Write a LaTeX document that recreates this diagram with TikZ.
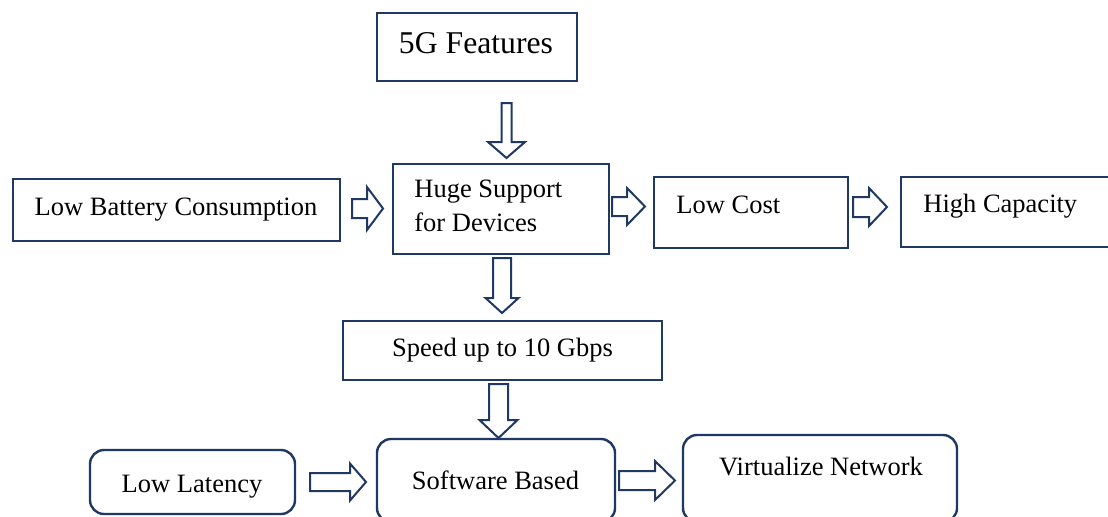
\documentclass[tikz,border=0pt]{standalone}
\usepackage{fontspec}
\setmainfont{Liberation Serif}
\definecolor{navy}{HTML}{1F3864}
\tikzset{
  box/.style={draw=navy, line width=1.2pt, inner sep=0pt, fill=white},
  rbox/.style={box, rounded corners=7pt},
  txt/.style={inner sep=0pt, font=\fontsize{13.25}{17}\selectfont},
  bigtxt/.style={inner sep=0pt, font=\fontsize{15.85}{19}\selectfont},
  barrow/.style={draw=navy, line width=1pt, fill=white, line join=miter}
}
% x0, yc, xhead, xtip, shaft half width, head half width
\newcommand\blockright[6]{%
  \draw[barrow] (#1,{#2-#5}) -- (#3,{#2-#5}) -- (#3,{#2-#6}) -- (#4,#2)
    -- (#3,{#2+#6}) -- (#3,{#2+#5}) -- (#1,{#2+#5}) -- cycle;}
% xc, y0, yhead, ytip, shaft half width, head half width
\newcommand\blockdown[6]{%
  \draw[barrow] ({#1-#5},#2) -- ({#1-#5},#3) -- ({#1-#6},#3) -- (#1,#4)
    -- ({#1+#6},#3) -- ({#1+#5},#3) -- ({#1+#5},#2) -- cycle;}
\begin{document}
\begin{tikzpicture}[x=0.5pt,y=-0.5pt]
\useasboundingbox[fill=white] (0,0) rectangle (1108,516);

% boxes
\node[box, minimum width=100pt, minimum height=34pt] (f5g) at (477,47) {};
\node[box, minimum width=163.5pt, minimum height=31pt] (lbc) at (176.5,210) {};
\node[box, minimum width=108pt, minimum height=45pt] (hsd) at (501,209) {};
\node[box, minimum width=97pt, minimum height=35.5pt] (lc) at (751,212.5) {};
\node[box, minimum width=109.5pt, minimum height=35pt] (hc) at (1010.5,212) {};
\node[box, minimum width=159.5pt, minimum height=29.5pt] (spd) at (502.5,350.5) {};
\node[rbox, minimum width=102.5pt, minimum height=32pt] (ll) at (192.5,482) {};
\node[rbox, minimum width=119pt, minimum height=41.5pt] (sb) at (496,480.5) {};
\node[rbox, minimum width=137pt, minimum height=43.5pt] (vn) at (820,478.5) {};

% texts
\node[bigtxt, anchor=base] (f5gt) at (476,53) {5G Features};
\node[txt, anchor=base] (lbct) at (176,215) {Low Battery Consumption};
\node[txt, anchor=west, align=left] (hsdt) at (414,206) {Huge Support\\for Devices};
\node[txt, anchor=base west] (lct) at (676,213) {Low Cost};
\node[txt, anchor=base west] (hct) at (923,212) {High Capacity};
\node[txt, anchor=base] (spdt) at (502.5,356) {Speed up to 10 Gbps};
\node[txt, anchor=base] (llt) at (192,492) {Low Latency};
\node[txt, anchor=base] (sbt) at (495.5,489) {Software Based};
\node[txt, anchor=base] (vnt) at (821,475) {Virtualize Network};

% block arrows
\blockdown{506.5}{103}{142}{158}{5}{18.5}
\blockright{352}{208.5}{367}{383}{9.5}{21.5}
\blockright{612}{206.5}{627}{645}{9.5}{18.5}
\blockright{853}{207}{869}{887}{10}{19}
\blockdown{502}{258}{298}{313}{9}{16.5}
\blockdown{498.5}{384}{420}{438}{9.5}{19}
\blockright{310}{482}{350}{366}{9}{18.5}
\blockright{619}{480.5}{655}{675}{9.5}{19.5}
\end{tikzpicture}
\end{document}
